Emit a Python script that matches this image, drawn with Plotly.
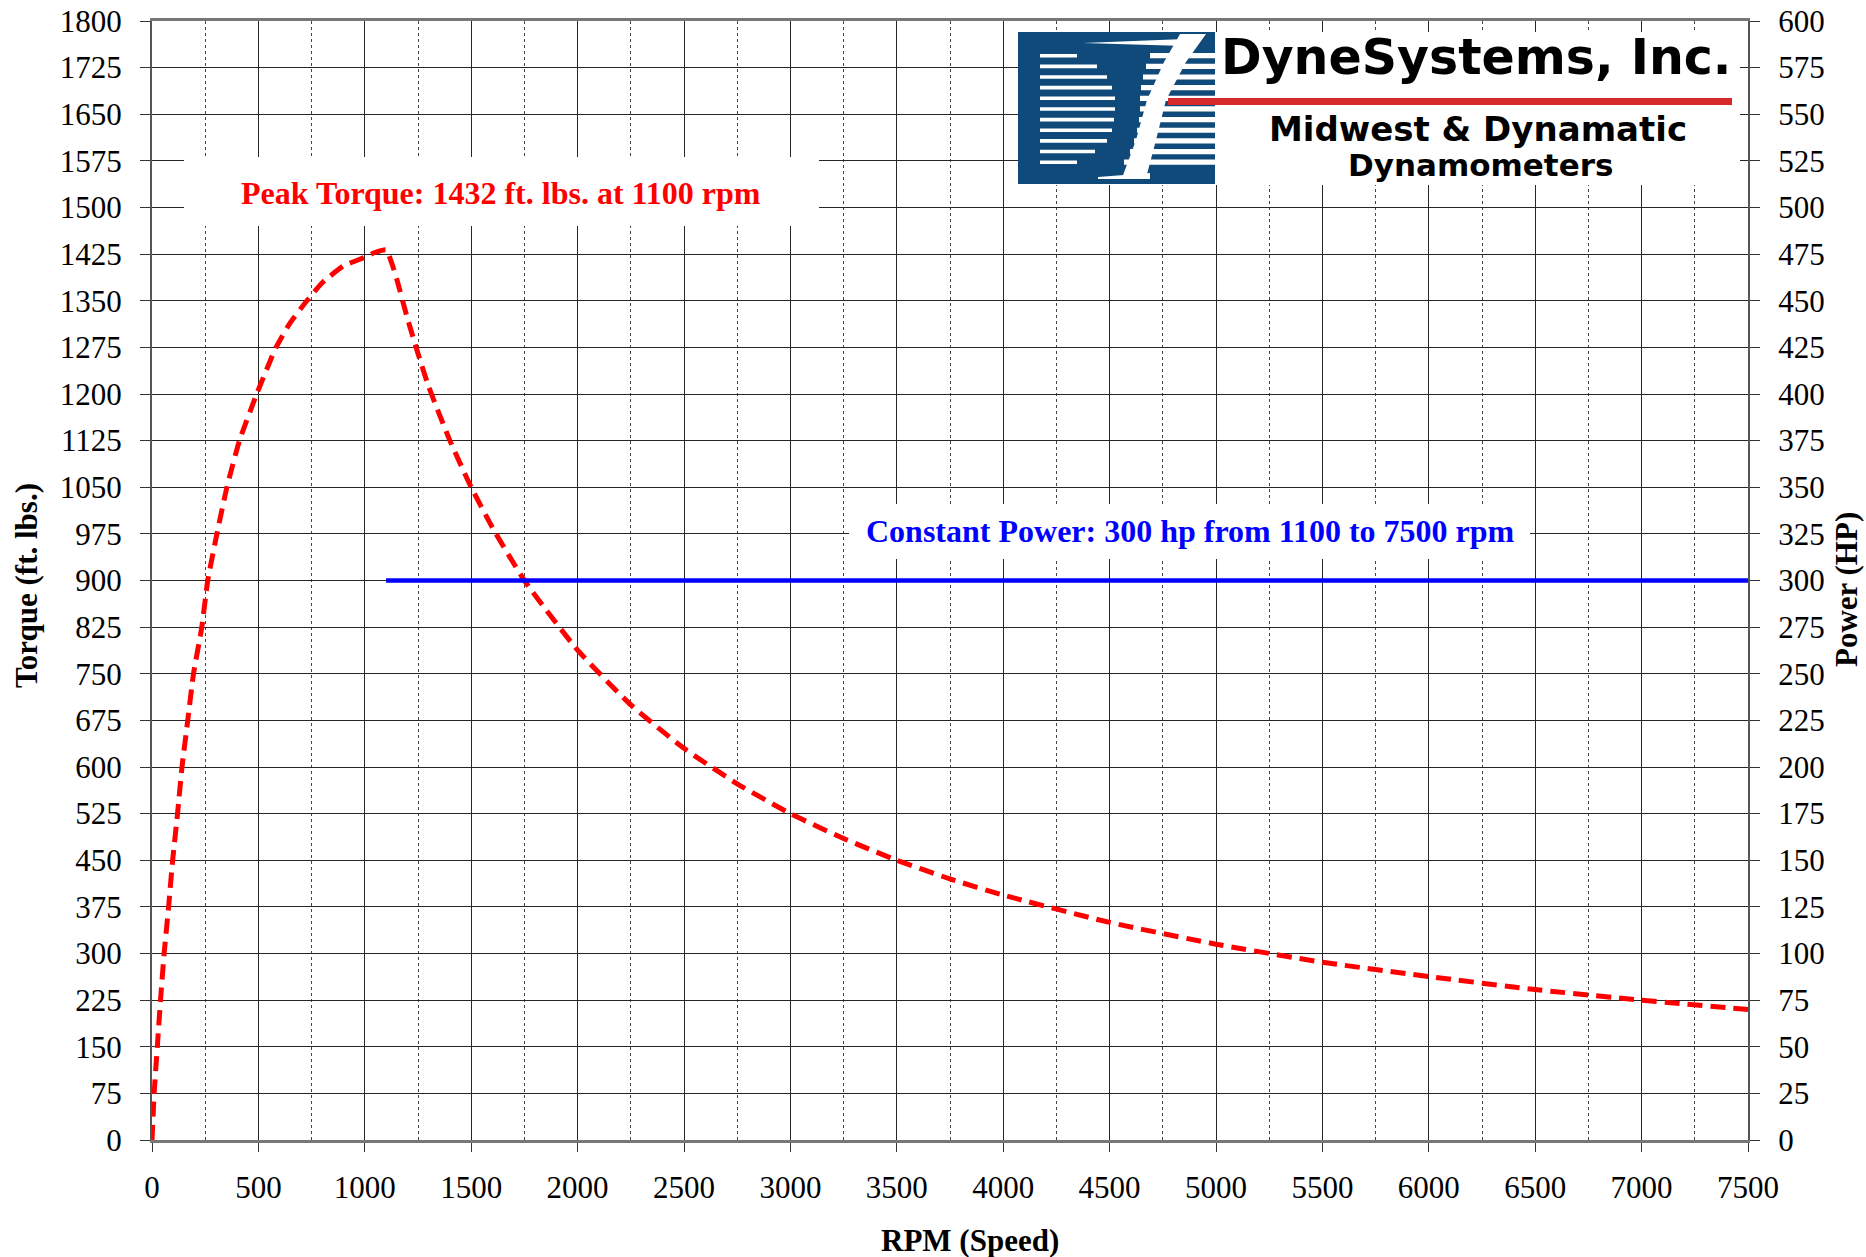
import plotly.graph_objects as go

# ---------------- data ----------------
rpm_torque = [0, 10, 25, 40, 57, 78, 97, 120, 141, 168, 195, 234, 262, 305, 352,
              411, 492, 583, 650, 728, 800, 900, 1000, 1050, 1100, 1125, 1150,
              1200, 1250, 1300, 1400, 1500, 1600, 1750, 2000, 2250, 2500, 2750,
              3000, 3250, 3500, 3750, 4000, 4500, 5000, 5500, 6000, 6500, 7000, 7500]
torque_ftlb = [0, 75, 150, 225, 300, 375, 450, 525, 600, 675, 750, 825, 900, 975, 1050,
               1125, 1200, 1275, 1315, 1350, 1379, 1406, 1420, 1428, 1432, 1412, 1385,
               1322, 1265, 1212, 1125, 1050, 985, 900, 788, 700, 630, 573,
               525, 485, 450, 420, 394, 350, 315, 286, 263, 242, 225, 210]

rpm_power = [1100, 7500]
power_hp = [300, 300]

peak_label = "Peak Torque: 1432 ft. lbs. at 1100 rpm"
power_label = "Constant Power: 300 hp from 1100 to 7500 rpm"
x_title = "RPM (Speed)"
y_title = "Torque (ft. lbs.)"
y2_title = "Power (HP)"

# ---------------- layout geometry ----------------
W, H = 1866, 1257
L, R, T, B = 152, 118, 21, 117
PW = W - L - R
PH = H - T - B


def px(x):
    return (x - L) / PW


def py(y):
    return (H - B - y) / PH


SERIF = "Liberation Serif"
GRID = "#262626"

fig = go.Figure()
fig.add_trace(go.Scatter(
    x=rpm_torque, y=torque_ftlb, mode="lines", yaxis="y",
    line=dict(color="#ff0000", width=5, dash="15px,8px", shape="spline", smoothing=0.5),
    hoverinfo="skip", showlegend=False))
fig.add_trace(go.Scatter(
    x=rpm_power, y=power_hp, mode="lines", yaxis="y2",
    line=dict(color="#0000ff", width=4.5),
    hoverinfo="skip", showlegend=False))

tickfont = dict(family=SERIF, size=31, color="#000000")

fig.update_layout(
    width=W, height=H,
    margin=dict(l=L, r=R, t=T, b=B, pad=0, autoexpand=False),
    paper_bgcolor="#ffffff", plot_bgcolor="#ffffff",
    showlegend=False,
    xaxis=dict(
        range=[0, 7500], tick0=0, dtick=500, showgrid=True, gridcolor=GRID, gridwidth=1,
        minor=dict(dtick=250, showgrid=True, gridcolor="#444444", griddash="dot", gridwidth=1),
        showline=True, linecolor="#777777", linewidth=3, mirror=True,
        ticks="outside", ticklen=9, tickwidth=1, tickcolor="#333333",
        tickfont=tickfont, ticklabelstandoff=9, zeroline=False, fixedrange=True,
        automargin=False),
    yaxis=dict(
        range=[0, 1800], tick0=0, dtick=75, showgrid=True, gridcolor=GRID, gridwidth=1,
        showline=True, linecolor="#555555", linewidth=2,
        ticks="outside", ticklen=10, tickwidth=1, tickcolor="#333333",
        tickfont=tickfont, ticklabelstandoff=12, zeroline=False, fixedrange=True,
        automargin=False),
    yaxis2=dict(
        range=[0, 600], tick0=0, dtick=25, overlaying="y", side="right", showgrid=False,
        showline=True, linecolor="#555555", linewidth=2,
        ticks="outside", ticklen=10, tickwidth=1, tickcolor="#333333",
        tickfont=tickfont, ticklabelstandoff=12, zeroline=False, fixedrange=True,
        automargin=False),
)

shapes = []
# white label / logo backgrounds covering the grid
for (x0, y0, x1, y1) in [(184, 157, 819, 226), (849, 504, 1530, 559), (1018, 32, 1740, 185)]:
    shapes.append(dict(type="rect", xref="paper", yref="paper", layer="above",
                       x0=px(x0), x1=px(x1), y0=py(y1), y1=py(y0),
                       fillcolor="#ffffff", line=dict(width=0)))

# logo: blue block with white stripes
BLUE = "#0f4a7a"
shapes.append(dict(type="rect", xref="paper", yref="paper", layer="above",
                   x0=px(1018), x1=px(1215), y0=py(184), y1=py(32),
                   fillcolor=BLUE, line=dict(width=0)))
row_y = [55.7 + 10.65 * k for k in range(11)]
d_left = [1077, 1097, 1107, 1112, 1115, 1115, 1114, 1112, 1107, 1095, 1077]
d_right = [1150, 1146, 1143, 1141, 1140, 1140, 1139, 1137, 1134, 1130, 1124]
for yc, a, b in zip(row_y, d_left, d_right):
    for (x0, x1, h) in [(1040, a, 1.8), (b, 1215, 2.6)]:
        shapes.append(dict(type="rect", xref="paper", yref="paper", layer="above",
                           x0=px(x0), x1=px(x1), y0=py(yc + h), y1=py(yc - h),
                           fillcolor="#ffffff", line=dict(width=0)))
# top and bottom wedges
shapes.append(dict(type="path", xref="paper", yref="paper", layer="above",
                   path=f"M {px(1083)},{py(43)} L {px(1185)},{py(39)} L {px(1185)},{py(46)} Z",
                   fillcolor="#ffffff", line=dict(width=0)))
shapes.append(dict(type="path", xref="paper", yref="paper", layer="above",
                   path=f"M {px(1098)},{py(177)} L {px(1150)},{py(173)} L {px(1150)},{py(179)} L {px(1098)},{py(179)} Z",
                   fillcolor="#ffffff", line=dict(width=0)))
# diagonal white band of the "S"
band = [(1180, 34), (1206, 34), (1186, 62), (1166, 100), (1156, 140), (1146, 178),
        (1122, 178), (1136, 140), (1147, 100), (1164, 62)]
path = "M " + " L ".join(f"{px(x)},{py(y)}" for x, y in band) + " Z"
shapes.append(dict(type="path", xref="paper", yref="paper", layer="above", path=path,
                   fillcolor="#ffffff", line=dict(width=0)))
# red bar
shapes.append(dict(type="rect", xref="paper", yref="paper", layer="above",
                   x0=px(1168), x1=px(1732), y0=py(105), y1=py(98),
                   fillcolor="#d7282a", line=dict(width=0)))
fig.update_layout(shapes=shapes)

ann = []


def text(s, x, y, size, color="#000000", family=SERIF, weight="bold", angle=0):
    ann.append(dict(text=s, x=px(x), y=py(y), xref="paper", yref="paper",
                    xanchor="center", yanchor="middle", showarrow=False, textangle=angle,
                    font=dict(family=family, size=size, color=color, weight=weight)))


text(peak_label, 501, 193, 32, color="#ff0000")
text(power_label, 1190, 531, 32, color="#0000ff")
text(x_title, 970, 1240, 31)
text(y_title, 26, 586, 31, angle=-90)
text(y2_title, 1846, 590, 31, angle=-90)
text("DyneSystems, Inc.", 1476, 57, 49, family="DejaVu Sans")
text("Midwest &amp; Dynamatic", 1478, 129, 34, family="DejaVu Sans")
text("Dynamometers", 1480, 165, 31, family="DejaVu Sans")
fig.update_layout(annotations=ann)

fig.write_html("out.html", config={"displayModeBar": False},
               post_script="document.body.style.margin='0';document.body.style.overflow='hidden';")
